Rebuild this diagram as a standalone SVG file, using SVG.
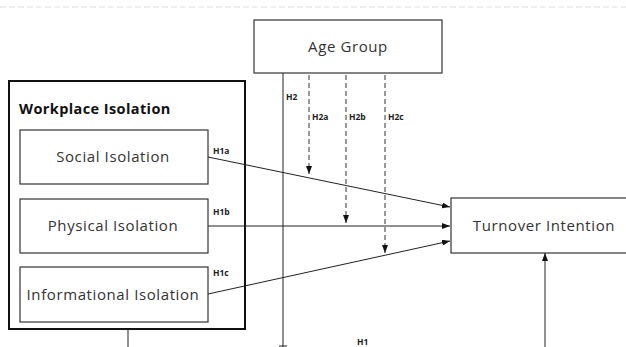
<svg xmlns="http://www.w3.org/2000/svg" width="626" height="347" viewBox="0 0 626 347">
<defs>
<marker id="ah" markerWidth="8" markerHeight="6" refX="8" refY="3" orient="auto" markerUnits="userSpaceOnUse">
<path d="M0,0 L8,3 L0,6 Z" fill="#111"/>
</marker>
<style>
.box{fill:#fff;stroke:#333;stroke-width:1.2}
.outer{fill:#fff;stroke:#111;stroke-width:2}
.t{font-family:"Open Sans","Liberation Sans",sans-serif;font-size:15px;letter-spacing:0.6px;fill:#333;text-anchor:middle}
.tb{font-family:"Open Sans","Liberation Sans",sans-serif;font-size:14.5px;letter-spacing:0.4px;font-weight:bold;fill:#111}
.lb{font-family:"Open Sans","Liberation Sans",sans-serif;font-size:8.5px;font-weight:bold;fill:#222}
.ln{stroke:#222;stroke-width:1;fill:none}
.dl{stroke:#333;stroke-width:1;fill:none;stroke-dasharray:5,3}
</style>
</defs>
<line x1="0" y1="7" x2="626" y2="7" stroke="#ddd" stroke-width="1" stroke-dasharray="6,3"/>
<g id="workplace-isolation">
<rect class="outer" x="9" y="81" width="236" height="248"/>
<text class="tb" x="19" y="114">Workplace Isolation</text>
</g>
<g id="social-isolation">
<rect class="box" x="20" y="130" width="188" height="54"/>
<text class="t" x="113" y="162">Social Isolation</text>
</g>
<g id="physical-isolation">
<rect class="box" x="20" y="199" width="188" height="54"/>
<text class="t" x="113" y="231">Physical Isolation</text>
</g>
<g id="informational-isolation">
<rect class="box" x="20" y="267" width="188" height="55"/>
<text class="t" x="113" y="300">Informational Isolation</text>
</g>
<g id="age-group">
<rect class="box" x="254" y="20" width="188" height="53"/>
<text class="t" x="348" y="52">Age Group</text>
</g>
<g id="turnover-intention">
<rect class="box" x="451" y="198" width="185" height="55"/>
<text class="t" x="544" y="231">Turnover Intention</text>
</g>
<g id="connectors">
<line class="ln" x1="208" y1="157" x2="450" y2="207" marker-end="url(#ah)"/>
<line class="ln" x1="208" y1="226" x2="450" y2="226" marker-end="url(#ah)"/>
<line class="ln" x1="208" y1="294" x2="450" y2="241" marker-end="url(#ah)"/>
<line class="ln" x1="545" y1="347" x2="545" y2="253" marker-end="url(#ah)"/>
<line class="ln" x1="283" y1="73" x2="283" y2="347"/>
<line class="ln" x1="279" y1="346" x2="287" y2="346"/>
<line class="ln" x1="128" y1="330" x2="128" y2="347"/>
<line class="dl" x1="309" y1="75" x2="309" y2="174" marker-end="url(#ah)"/>
<line class="dl" x1="346" y1="75" x2="346" y2="223" marker-end="url(#ah)"/>
<line class="dl" x1="385" y1="75" x2="385" y2="253" marker-end="url(#ah)"/>
</g>
<g id="labels">
<text class="lb" x="286" y="100">H2</text>
<text class="lb" x="312" y="120">H2a</text>
<text class="lb" x="349" y="120">H2b</text>
<text class="lb" x="388" y="120">H2c</text>
<text class="lb" x="213" y="154">H1a</text>
<text class="lb" x="213" y="215">H1b</text>
<text class="lb" x="213" y="276">H1c</text>
<text class="lb" x="357" y="345">H1</text>
</g>
</svg>
